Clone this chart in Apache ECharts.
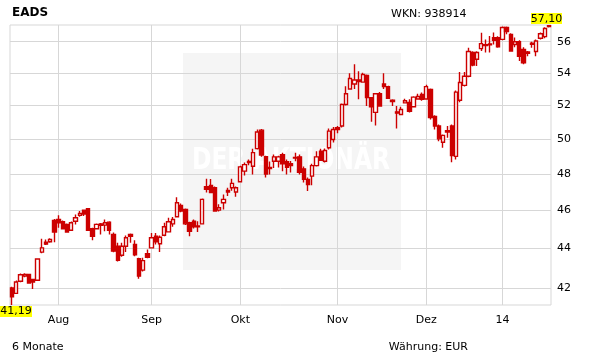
<!DOCTYPE html>
<html><head><meta charset="utf-8">
<script src="https://cdn.jsdelivr.net/npm/echarts@6/dist/echarts.min.js"></script>
<style>html,body{margin:0;padding:0;background:#fff}#c{width:611px;height:364px}</style>
</head><body><div id="c"></div>
<script>
// Daily candles (Jul 17 2013 - Jan 17 2014)
const opens = [42.02,41.75,42.35,42.60,42.68,42.43,42.40,43.81,44.32,44.34,45.46,45.51,45.39,45.25,44.94,45.42,45.73,46.01,46.09,45.02,
45.02,45.28,45.21,45.37,44.72,44.11,43.65,44.11,44.72,44.20,43.48,42.90,43.73,44.03,44.63,44.24,44.68,44.86,45.28,45.66,
46.26,46.05,45.34,45.42,45.17,45.28,47.28,47.36,47.23,46.01,46.41,47.08,47.23,46.99,47.56,48.15,48.70,48.43,49.43,50.51,
48.97,48.29,48.71,48.71,49.09,48.69,48.57,48.89,48.96,48.28,47.69,47.87,48.46,49.28,48.71,49.48,49.96,50.65,50.75,52.04,
52.99,53.30,53.55,53.42,53.84,52.46,51.57,52.70,53.30,53.14,52.30,51.60,51.44,52.14,52.17,51.91,52.38,52.66,52.38,52.97,
51.32,50.75,49.80,50.40,50.75,48.99,52.30,53.22,53.79,55.30,54.86,55.55,55.74,55.85,56.26,56.26,56.15,56.93,56.48,55.82,
56.00,55.50,55.33,55.83,55.36,56.22,56.33,57.00];
const closes = [41.59,42.31,42.67,42.68,42.26,42.31,43.46,44.03,44.22,44.46,44.85,45.34,45.02,44.85,45.34,45.60,45.83,45.80,44.94,44.63,
45.25,45.20,45.34,44.94,43.86,43.39,44.11,44.55,44.63,43.68,42.60,43.38,43.55,44.55,44.34,44.58,45.13,45.39,45.51,46.41,
45.96,45.28,44.89,45.13,45.13,46.59,47.14,46.96,45.96,46.14,46.59,46.99,47.47,47.23,48.39,48.52,48.63,49.20,50.40,49.06,
47.99,48.36,48.96,48.96,48.57,48.36,48.46,48.93,48.08,47.69,47.41,48.46,48.96,48.77,49.32,50.45,50.55,50.55,52.04,52.70,
53.65,53.55,53.45,53.90,52.46,51.91,52.70,51.95,53.14,52.42,52.22,51.52,51.74,52.27,51.63,52.49,52.53,52.36,53.14,51.26,
50.75,50.00,50.20,50.48,49.03,52.80,53.40,53.79,55.36,54.50,55.30,55.87,55.80,55.80,56.09,55.67,56.93,56.66,55.39,56.00,
55.06,54.64,55.25,55.90,56.04,56.52,56.87,57.05];
const lows = [41.19,41.72,42.30,42.55,42.23,41.97,42.38,43.75,44.18,44.29,44.32,45.08,44.98,44.81,44.93,45.25,45.66,45.69,44.93,44.42,
44.98,44.72,44.89,44.72,43.80,43.33,43.58,43.82,44.29,43.60,42.47,42.83,43.50,44.00,44.20,43.82,44.63,44.82,45.13,45.63,
45.89,45.22,44.63,45.04,44.85,45.25,46.96,46.93,45.94,45.94,46.05,46.77,47.06,46.74,47.52,47.91,48.48,47.96,49.38,48.97,
47.79,47.96,48.33,48.35,48.14,47.96,48.07,48.71,47.96,47.52,47.05,47.37,48.41,48.72,48.64,49.38,49.79,50.32,50.67,51.98,
52.97,53.00,52.36,53.38,51.95,51.00,50.78,51.90,52.99,52.39,51.95,50.60,51.40,52.10,51.56,51.87,52.36,52.27,52.36,51.14,
50.55,49.86,49.48,50.06,48.65,48.81,52.18,53.14,53.72,54.42,54.43,55.39,55.30,55.30,55.82,55.61,56.09,56.48,55.34,55.63,
54.75,54.54,55.06,55.61,55.06,56.15,56.22,56.93];
const highs = [42.08,42.38,42.73,42.75,42.72,42.45,43.50,44.50,44.46,44.52,45.54,45.74,45.46,45.30,45.41,45.78,45.96,46.05,46.10,45.08,
45.30,45.32,45.51,45.42,44.82,44.29,44.29,44.67,44.77,44.42,43.53,43.52,43.95,44.80,44.80,44.67,45.34,45.60,45.64,46.70,
46.37,46.10,45.39,45.51,45.42,46.64,47.73,47.71,47.30,46.32,46.86,47.23,47.73,47.30,48.46,48.64,48.81,49.43,50.55,50.58,
49.03,48.69,49.09,49.03,49.20,48.81,48.72,49.20,49.09,48.41,47.80,48.57,49.28,49.43,49.44,50.61,50.69,50.75,52.10,53.17,
53.97,54.54,54.10,54.00,53.90,52.50,52.75,52.80,53.97,53.20,52.36,51.95,51.91,52.39,52.36,52.55,52.70,52.78,53.26,53.03,
51.40,50.84,50.26,50.75,50.84,52.90,54.06,54.06,55.61,55.38,55.38,56.59,56.15,56.37,56.61,56.35,57.00,57.00,56.55,56.28,
56.09,55.63,55.39,56.00,56.15,56.61,56.95,57.10];
const monthTickIndex = [11, 33, 54, 77, 98, 116];
const monthTickLabels = ['Aug', 'Sep', 'Okt', 'Nov', 'Dez', '14'];
const priceTicks = [42, 44, 46, 48, 50, 52, 54, 56];

const lg = v => Math.log10(v);
const candles = opens.map((o, i) => [i, lg(o), lg(closes[i]), lg(lows[i]), lg(highs[i])]);
const minLow = Math.min(...lows), maxHigh = Math.max(...highs);
const fmt = v => v.toFixed(2).replace('.', ',');
const RED = '#cc0000', GRID = '#d7d7d7';
const FONT = 'DejaVu Sans';

const chart = echarts.init(document.getElementById('c'), null, {renderer: 'canvas'});
chart.setOption({
  animation: false,
  backgroundColor: '#ffffff',
  grid: {left: 10, top: 25, width: 541, height: 280, show: true, borderColor: GRID, borderWidth: 1, backgroundColor: 'transparent'},
  xAxis: {
    type: 'value', min: -0.5, max: opens.length - 0.5,
    axisLine: {show: false}, axisTick: {show: false, customValues: monthTickIndex},
    splitLine: {show: true, lineStyle: {color: GRID, width: 1}},
    axisLabel: {customValues: monthTickIndex, margin: 10, color: '#000', fontFamily: FONT, fontSize: 11,
      formatter: v => monthTickLabels[monthTickIndex.indexOf(Math.round(v))] || ''}
  },
  yAxis: {
    type: 'value', position: 'right', min: lg(minLow), max: lg(maxHigh), scale: true,
    axisLine: {show: false}, axisTick: {show: false, customValues: priceTicks.map(lg)},
    splitLine: {show: true, lineStyle: {color: GRID, width: 1}},
    axisLabel: {customValues: priceTicks.map(lg), margin: 6, color: '#000', fontFamily: FONT, fontSize: 11,
      formatter: v => String(Math.round(Math.pow(10, v)))}
  },
  series: [{
    type: 'candlestick', data: candles, barWidth: 3.8,
    itemStyle: {color: '#ffffff', color0: RED, borderColor: RED, borderColor0: RED, borderWidth: 1.4}
  }],
  graphic: [
    {type: 'rect', z: -10, shape: {x: 183, y: 53, width: 218, height: 217}, style: {fill: '#f5f5f5'}},
    {type: 'text', z: -9, x: 291, y: 161, scaleX: 0.78, style: {text: 'DER AKTIONÄR', x: 0, y: 0, fill: '#ffffff',
      font: 'bold 30px "DejaVu Sans"', align: 'center', verticalAlign: 'middle'}},
    {type: 'text', x: 12, y: 12.5, style: {text: 'EADS', fill: '#000', font: 'bold 12px "DejaVu Sans"', verticalAlign: 'middle'}},
    {type: 'text', x: 391, y: 14, style: {text: 'WKN: 938914', fill: '#000', font: '11px "DejaVu Sans"', verticalAlign: 'middle'}},
    {type: 'text', x: 12, y: 347, style: {text: '6 Monate', fill: '#000', font: '11px "DejaVu Sans"', verticalAlign: 'middle'}},
    {type: 'text', x: 468, y: 347, style: {text: 'Währung: EUR', fill: '#000', font: '11px "DejaVu Sans"', align: 'right', verticalAlign: 'middle'}},
    {type: 'rect', shape: {x: 531, y: 13, width: 31, height: 11}, style: {fill: '#ffff00'}},
    {type: 'text', x: 546.5, y: 18.7, style: {text: fmt(maxHigh), fill: '#000', font: '11px "DejaVu Sans"', align: 'center', verticalAlign: 'middle'}},
    {type: 'rect', shape: {x: 0, y: 306, width: 32, height: 11}, style: {fill: '#ffff00'}},
    {type: 'text', x: 16, y: 311.5, style: {text: fmt(minLow), fill: '#000', font: '11px "DejaVu Sans"', align: 'center', verticalAlign: 'middle'}}
  ]
});
</script></body></html>
